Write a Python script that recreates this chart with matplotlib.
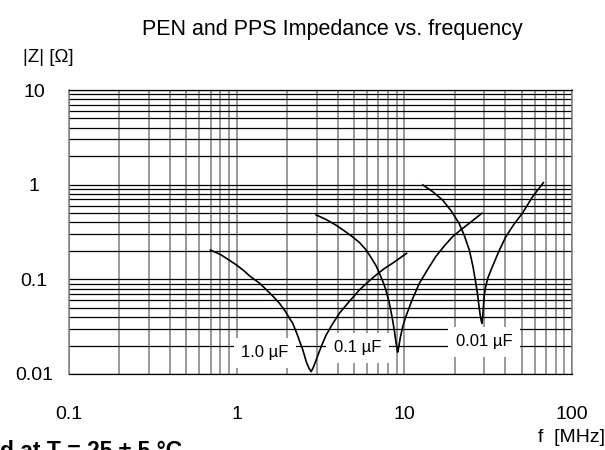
import matplotlib
matplotlib.use('Agg')

import matplotlib.pyplot as plt
from matplotlib.ticker import LogLocator, NullFormatter

plt.rcParams['font.family'] = ['Liberation Sans', 'DejaVu Sans']

# impedance curves, f in MHz, |Z| in ohm
f_1u = [0.697, 0.8, 0.9, 0.996, 1.1, 1.2, 1.37, 1.5, 1.65, 1.80, 1.95, 2.08, 2.16, 2.3, 2.4, 2.48,
        2.6, 2.7, 2.78, 2.85, 2.92, 2.98, 3.1, 3.25, 3.42, 3.7, 4.1, 4.6, 5.4, 6.0, 6.78, 7.6, 8.51, 10.3]
z_1u = [0.204, 0.183, 0.160, 0.142, 0.124, 0.108, 0.091, 0.078, 0.066, 0.0558, 0.046, 0.038, 0.0343,
        0.026, 0.021, 0.018, 0.0135, 0.0115, 0.0106, 0.0115, 0.0128, 0.0141, 0.0170, 0.021, 0.0259,
        0.033, 0.0438, 0.056, 0.0773, 0.092, 0.111, 0.130, 0.148, 0.188]

f_100n = [2.98, 3.4, 3.9, 4.3, 4.8, 5.4, 5.92, 6.4, 6.8, 7.1, 7.5, 7.8, 8.14, 8.45, 8.71, 8.9, 9.05,
          9.12, 9.25, 9.45, 9.8, 10.2, 11.1, 12.3, 13.8, 15.4, 17.3, 19.4, 21.8, 24.4, 29.0]
z_100n = [0.479, 0.43, 0.375, 0.333, 0.29, 0.245, 0.204, 0.165, 0.138, 0.116, 0.092, 0.075, 0.0558,
          0.040, 0.0292, 0.022, 0.0185, 0.0170, 0.019, 0.024, 0.032, 0.0403, 0.060, 0.091, 0.128,
          0.174, 0.225, 0.282, 0.335, 0.391, 0.499]

f_10n = [12.9, 14.8, 16.9, 19.0, 21.2, 22.8, 24.4, 25.6, 26.7, 27.4, 27.9, 28.4, 28.8, 29.0, 29.3,
         29.6, 29.9, 30.6, 31.6, 33.5, 36.5, 40.3, 45.0, 50.6, 58.0, 67.5]
z_10n = [0.993, 0.84, 0.689, 0.53, 0.391, 0.29, 0.204, 0.140, 0.091, 0.068, 0.0515, 0.041, 0.036,
         0.0343, 0.039, 0.050, 0.0657, 0.085, 0.105, 0.136, 0.195, 0.282, 0.38, 0.499, 0.74, 1.05]

labels = ['1.0 µF', '0.1 µF', '0.01 µF']
label_f = [1.47, 5.25, 29.9]
label_z = [0.0167, 0.0189, 0.0218]

x_ticks = [0.1, 1, 10, 100]
x_ticklabels = ['0.1', '1', '10', '100']
y_ticks = [0.01, 0.1, 1, 10]
y_ticklabels = ['0.01', '0.1', '1', '10']

fig = plt.figure(figsize=(6.05, 4.5), dpi=100)
ax = fig.add_axes([69 / 605, 1 - 374 / 450, (572 - 69) / 605, (374 - 90) / 450])

ax.set_xscale('log')
ax.set_yscale('log')
ax.set_xlim(0.1, 100)
ax.set_ylim(0.01, 10)

for f, z in [(f_1u, z_1u), (f_100n, z_100n), (f_10n, z_10n)]:
    ax.plot(f, z, color='black', lw=1.2, zorder=3)

for txt, fx, zy in zip(labels, label_f, label_z):
    ax.text(fx, zy, txt, fontsize=12, ha='center', va='center', zorder=2,
            bbox=dict(boxstyle='square,pad=0.45', facecolor='white', edgecolor='none'))

# log grid: vertical lines grey, horizontal black
ax.set_axisbelow(True)
ax.xaxis.set_major_locator(LogLocator(base=10, numticks=10))
ax.xaxis.set_minor_locator(LogLocator(base=10, subs=range(2, 10), numticks=20))
ax.yaxis.set_minor_locator(LogLocator(base=10, subs=range(2, 10), numticks=20))
ax.xaxis.set_minor_formatter(NullFormatter())
ax.yaxis.set_minor_formatter(NullFormatter())
ax.grid(True, which='both', axis='x', color='#7f7f7f', lw=1.1)
ax.grid(True, which='both', axis='y', color='black', lw=0.9)

ax.set_xticks(x_ticks)
ax.set_xticklabels(x_ticklabels)
ax.set_yticks(y_ticks)
ax.set_yticklabels(y_ticklabels)
ax.tick_params(which='both', length=0)
ax.tick_params(axis='x', pad=23, labelsize=14)
ax.tick_params(axis='y', pad=25, labelsize=14)
for lbl in ax.get_yticklabels():
    lbl.set_horizontalalignment('center')

for side in ['left', 'right']:
    ax.spines[side].set_color('#7f7f7f')
    ax.spines[side].set_linewidth(1.1)
for side in ['top', 'bottom']:
    ax.spines[side].set_color('black')
    ax.spines[side].set_linewidth(0.9)

fig.text(332 / 605, 1 - 30 / 450, 'PEN and PPS Impedance vs. frequency',
         fontsize=15.5, ha='center', va='center')
fig.text(23 / 605, 1 - 58 / 450, '|Z| [Ω]', fontsize=13.5, ha='left', va='center')
fig.text(605 / 605, 1 - 438 / 450, 'f  [MHz]', fontsize=14, ha='right', va='center')
fig.text(0, 1 - 440 / 450, 'd at T = 25 ± 5 °C', fontsize=16.5, fontweight='bold',
         ha='left', va='top')

fig.savefig('out.png', dpi=100)
